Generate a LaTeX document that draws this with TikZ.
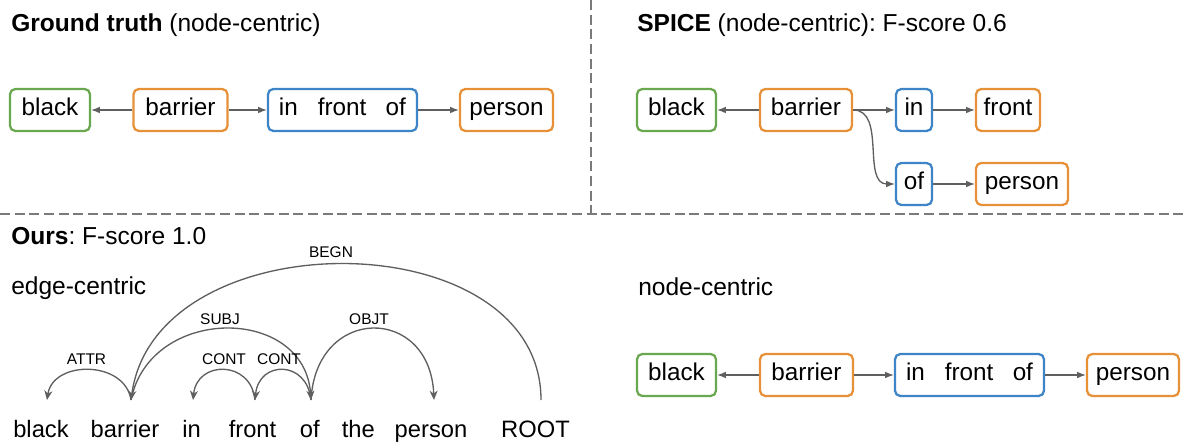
\documentclass[tikz,border=0pt]{standalone}
\usepackage{fontspec}
\setmainfont{Liberation Sans}
\usetikzlibrary{arrows.meta}
\frenchspacing
\definecolor{cgreen}{HTML}{6AA84F}
\definecolor{corange}{HTML}{E69138}
\definecolor{cblue}{HTML}{3D85C6}
\definecolor{cline}{HTML}{5F5F5F}
\definecolor{cdash}{HTML}{7A7A7A}
\tikzset{
  box/.style={draw=#1, rounded corners=4pt, line width=1.7pt, minimum height=31.5pt,
    inner sep=0pt, text height=11.5pt, text depth=4pt, fill=white,
    font=\fontsize{18.2}{20}\selectfont},
  bw/.style={minimum width=#1*0.75pt},
  conn/.style={draw=cline, line width=1pt, -{Latex[length=6.5pt,width=5pt]}},
  arcline/.style={draw=cline, line width=1pt},
  arcarrow/.style={draw=cline, line width=1pt, -{Stealth[length=7pt,width=6pt,inset=2.2pt]}},
  head/.style={anchor=base west, inner sep=0pt, font=\fontsize{18.4}{22}\selectfont},
  word/.style={anchor=base, inner sep=0pt, font=\fontsize{17.8}{21}\selectfont},
  lab/.style={anchor=base, inner sep=0pt, font=\fontsize{11.6}{14}\selectfont},
  sep/.style={draw=cdash, line width=1.2pt, dash pattern=on 7.6pt off 3.4pt}
}
\begin{document}
\begin{tikzpicture}[x=0.75pt,y=-0.75pt]
\useasboundingbox (0,0) rectangle (1185,443);
% separators
\draw[sep] (591,0) -- (591,214);
\draw[sep] (0,214) -- (1185,214);
% headers
\node[head] (h1) at (11,31) {\textbf{Ground truth} (node-centric)};
\node[head] (h2) at (637,31) {\textbf{SPICE} (node-centric): F-score 0.6};
\node[head] (h3) at (11,244) {\textbf{Ours}: F-score 1.0};
\node[head] (h4) at (11,294) {edge-centric};
\node[head] (h5) at (638,295) {node-centric};
% ground truth graph
\node[box=cgreen, bw=80] (gblack) at (50,110) {black};
\node[box=corange, bw=94] (gbar) at (180.5,110) {barrier};
\node[box=cblue, bw=149] (gifo) at (342.5,110) {in\hspace{15pt}front\hspace{14.5pt}of};
\node[box=corange, bw=93] (gper) at (506.5,110) {person};
\draw[conn] (gbar) -- (gblack);
\draw[conn] (gbar) -- (gifo);
\draw[conn] (gifo) -- (gper);
% SPICE graph
\node[box=cgreen, bw=79] (sblack) at (676.5,110) {black};
\node[box=corange, bw=92] (sbar) at (806,110) {barrier};
\node[box=cblue, bw=36] (sin) at (914,110) {in};
\node[box=corange, bw=64] (sfront) at (1008,110) {front};
\node[box=cblue, bw=36] (sof) at (914,184) {of};
\node[box=corange, bw=92] (sper) at (1022,184) {person};
\draw[conn] (sbar) -- (sblack);
\draw[conn] (sbar.east) -- (sin.west);
\draw[conn] (sbar.east) to[out=0,in=180] (sof.west);
\draw[conn] (sin) -- (sfront);
\draw[conn] (sof) -- (sper);
% ours node-centric
\node[box=cgreen, bw=79] (oblack) at (676.5,375) {black};
\node[box=corange, bw=93] (obar) at (806.5,375) {barrier};
\node[box=cblue, bw=149] (oifo) at (969.5,375) {in\hspace{15pt}front\hspace{14.5pt}of};
\node[box=corange, bw=92] (oper) at (1133,375) {person};
\draw[conn] (obar) -- (oblack);
\draw[conn] (obar) -- (oifo);
\draw[conn] (oifo) -- (oper);
% ours edge-centric
\node[word] (wblack) at (41,437) {black};
\node[word] (wbar) at (125,437) {barrier};
\node[word] (win) at (191.7,437) {in};
\node[word] (wfront) at (252.5,437) {front};
\node[word] (wof) at (309.7,437) {of};
\node[word] (wthe) at (358.3,437) {the};
\node[word] (wper) at (431,437) {person};
\node[word] (wroot) at (535.5,437) {ROOT};
\coordinate (pblack) at (47,400);
\coordinate (pbar) at (131,400);
\coordinate (pin) at (193,400);
\coordinate (pfront) at (255,400);
\coordinate (pof) at (311,400);
\coordinate (pper) at (434,400);
\coordinate (proot) at (541,400);
\draw[arcarrow] (proot) .. controls +(0,-180) and +(25,-182) .. (pbar);
\draw[arcarrow] (pbar) .. controls +(19,-95) and +(-6,-95) .. (pof);
\draw[arcarrow] (pof) .. controls +(5,-95) and +(-4,-95) .. (pper);
\draw[arcarrow] (pbar) .. controls +(-6,-40) and +(6,-40) .. (pblack);
\draw[arcarrow] (pfront) .. controls +(-4,-40) and +(4,-40) .. (pin);
\draw[arcarrow] (pof) .. controls +(-4,-40) and +(4,-40) .. (pfront);
\node[lab] (lbegn) at (331,257.5) {BEGN};
\node[lab] (lsubj) at (220,324) {SUBJ};
\node[lab] (lobjt) at (369,324) {OBJT};
\node[lab] (lattr) at (86.5,364) {ATTR};
\node[lab] (lcont1) at (224,364) {CONT};
\node[lab] (lcont2) at (279,364) {CONT};
\end{tikzpicture}
\end{document}
